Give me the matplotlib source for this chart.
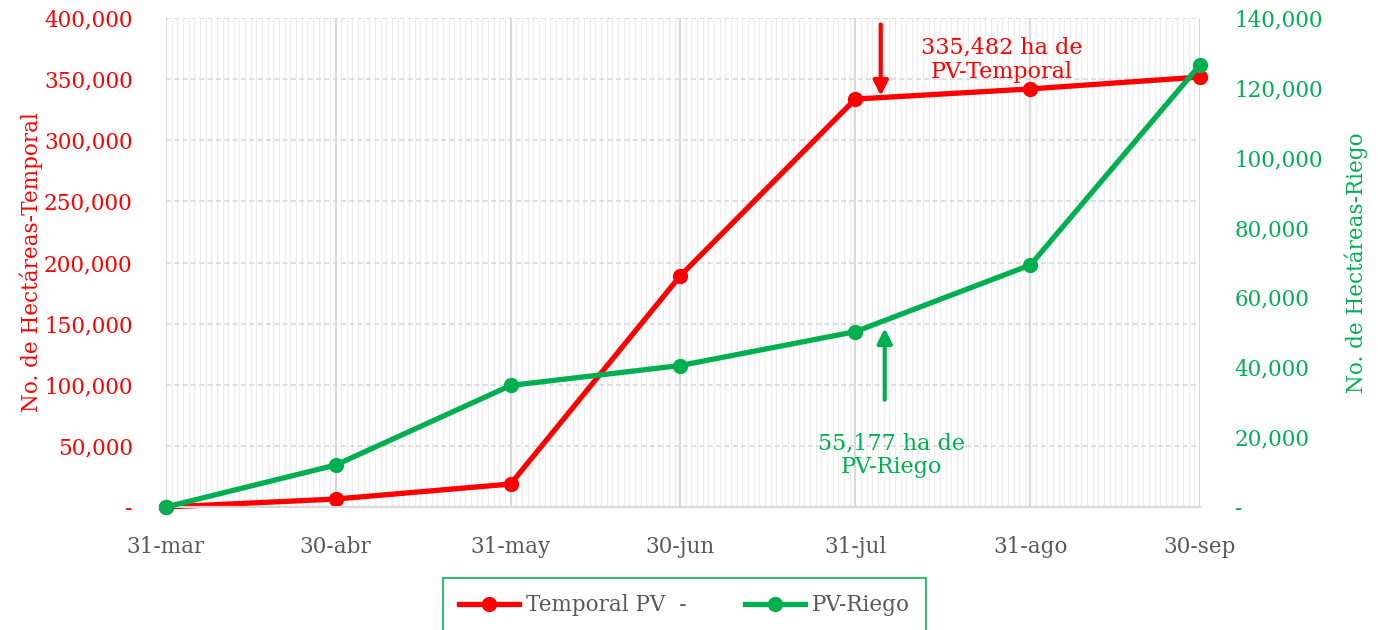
import numpy as np
import pandas as pd
import matplotlib
matplotlib.use("Agg")
import matplotlib.pyplot as plt
import matplotlib.dates as mdates
from matplotlib.ticker import FuncFormatter, MultipleLocator

# Data
dates = pd.to_datetime(["2023-03-31", "2023-04-30", "2023-05-31", "2023-06-30",
                        "2023-07-31", "2023-08-31", "2023-09-30"])
date_labels = ["31-mar", "30-abr", "31-may", "30-jun", "31-jul", "31-ago", "30-sep"]
temporal = [0, 6500, 18800, 189000, 333700, 342000, 351700]
riego = [0, 12000, 34800, 40500, 50200, 69300, 126600]

RED = "#FF0000"
GREEN = "#00B050"
GRAY_TXT = "#595959"
FS = 15.5

plt.rcParams["font.family"] = ["DejaVu Serif"]

fig = plt.figure(figsize=(13.78, 6.3), dpi=100)
ax = fig.add_axes([166 / 1378, 1 - 507 / 630, (1200 - 166) / 1378, (507 - 18) / 630])
ax2 = ax.twinx()

ax.plot(dates, temporal, color=RED, lw=3.8, marker="o", ms=10, clip_on=False,
        zorder=4, label="Temporal PV  -")
ax2.plot(dates, riego, color=GREEN, lw=3.8, marker="o", ms=10, clip_on=False,
         zorder=4, label="PV-Riego")

ax.set_xlim(dates[0], dates[-1])
ax.set_ylim(0, 400000)
ax2.set_ylim(0, 140000)

ax.set_xticks(dates)
ax.set_xticklabels(date_labels)
ax.xaxis.set_minor_locator(mdates.DayLocator())
ax.tick_params(axis="x", which="both", length=0, colors=GRAY_TXT, labelsize=FS, pad=21)

ax.yaxis.set_major_locator(MultipleLocator(50000))
ax2.yaxis.set_major_locator(MultipleLocator(20000))
fmt = FuncFormatter(lambda v, p: "-" if v == 0 else f"{int(v):,}")
ax.yaxis.set_major_formatter(fmt)
ax2.yaxis.set_major_formatter(fmt)
ax.tick_params(axis="y", length=0, colors=RED, labelsize=FS, pad=24)
ax2.tick_params(axis="y", length=0, colors=GREEN, labelsize=FS, pad=25)

ax.grid(axis="x", which="minor", color="#EDEDED", lw=1.0)
ax.grid(axis="x", which="major", color="#D9D9D9", lw=1.5)
ax.grid(axis="y", which="major", color="#D9D9D9", lw=1.2, ls=(0, (3, 2)))
ax.set_axisbelow(True)

for a in (ax, ax2):
    for s in ("top", "right", "left"):
        a.spines[s].set_visible(False)
    a.spines["bottom"].set_color("#D9D9D9")
    a.spines["bottom"].set_linewidth(1.5)
ax.spines["left"].set_visible(True)
ax.spines["left"].set_color("#D9D9D9")

ax.set_ylabel("No. de Hectáreas-Temporal", color=RED, fontsize=FS, labelpad=1)
ax2.set_ylabel("No. de Hectáreas-Riego", color=GREEN, fontsize=FS, labelpad=15)

# Annotations
x_red = dates[4] + pd.Timedelta(days=4.5)
ax.annotate("", xy=(x_red, 334000), xytext=(x_red, 397000),
            arrowprops=dict(arrowstyle="-|>", color=RED, lw=3, mutation_scale=22))
ax.text(dates[4] + pd.Timedelta(days=26), 366000, "335,482 ha de\nPV-Temporal",
        color=RED, fontsize=16, ha="center", va="center", linespacing=1.15)

x_grn = dates[4] + pd.Timedelta(days=5.2)
ax2.annotate("", xy=(x_grn, 52000), xytext=(x_grn, 29900),
             arrowprops=dict(arrowstyle="-|>", color=GREEN, lw=3, mutation_scale=22))
ax2.text(dates[4] + pd.Timedelta(days=6.4), 14800, "55,177 ha de\nPV-Riego",
         color=GREEN, fontsize=16, ha="center", va="center", linespacing=1.1)

h1, l1 = ax.get_legend_handles_labels()
h2, l2 = ax2.get_legend_handles_labels()
leg = fig.legend(h1 + h2, l1 + l2, loc="upper left", ncol=2, mode="expand",
                 bbox_to_anchor=(443 / 1378, 0, 483 / 1378, 1 - 578 / 630),
                 frameon=True, fancybox=False, edgecolor=GREEN, fontsize=FS,
                 handlelength=2.8, handletextpad=0.3, borderpad=0.75,
                 borderaxespad=0, labelcolor=GRAY_TXT)
leg.get_frame().set_linewidth(1.5)

fig.savefig("out.png", dpi=100)
